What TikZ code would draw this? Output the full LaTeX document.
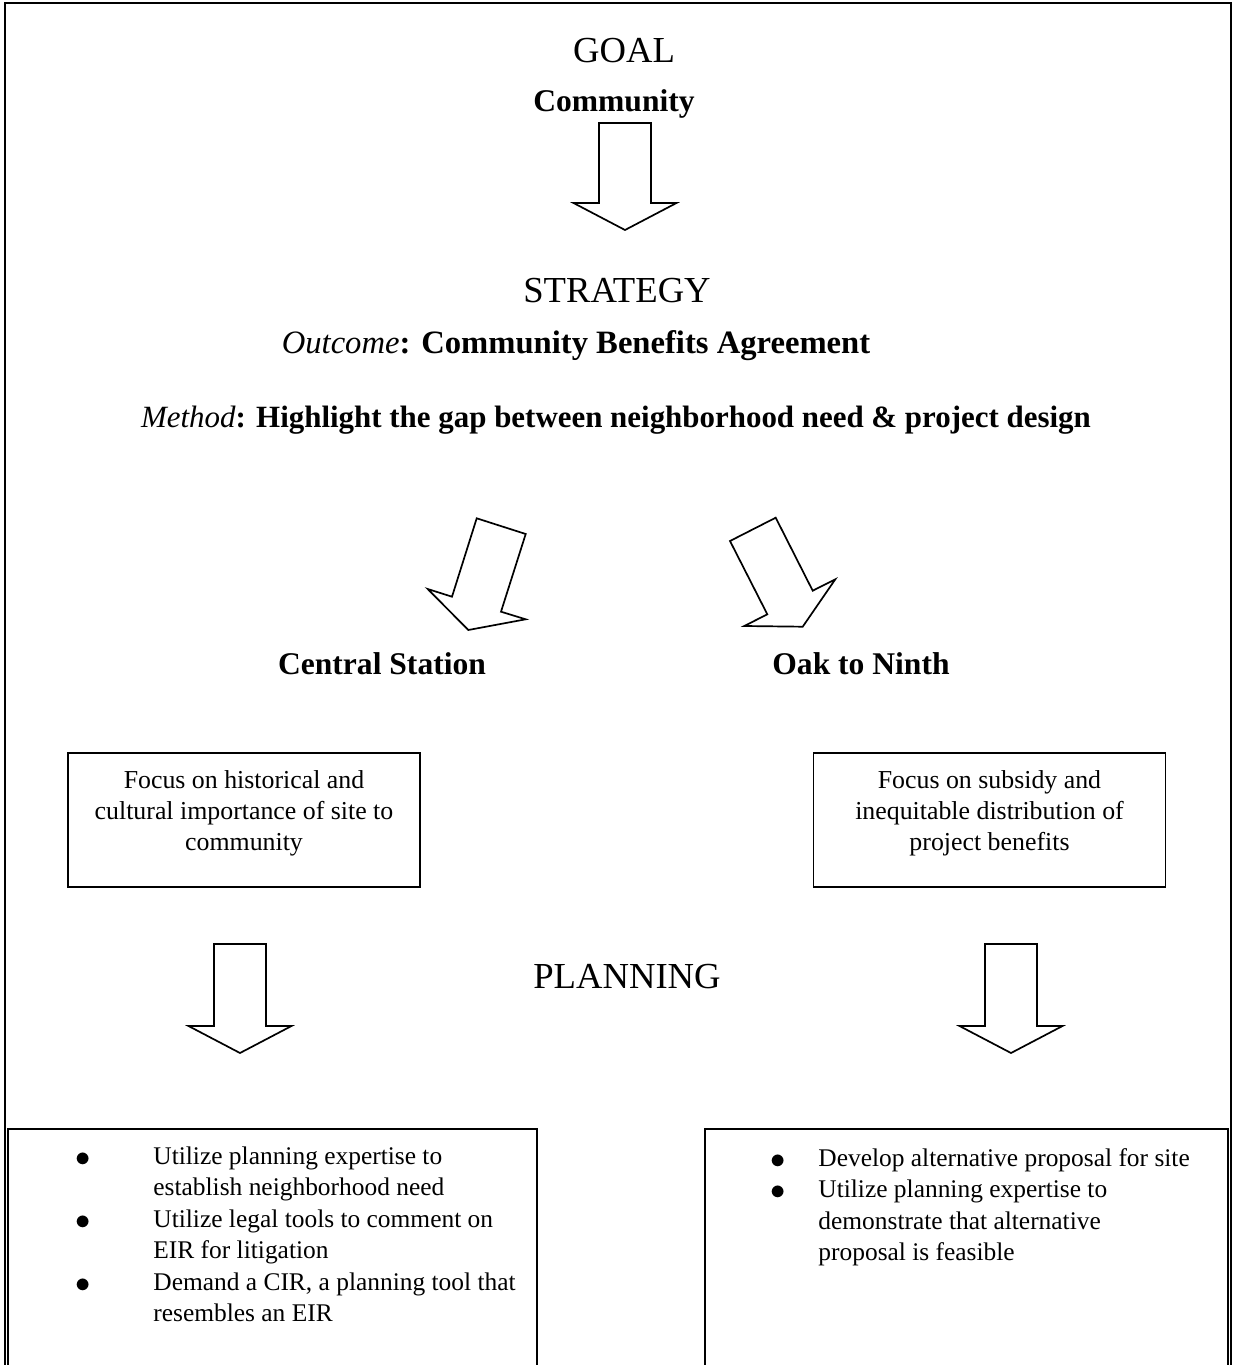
\documentclass[tikz,border=0pt]{standalone}
\usepackage{fontspec}
\setmainfont{Liberation Serif}
\newdimen\pxdim
\newdimen\marg
\newdimen\lsep
\pxdim=0.472pt
\newcommand\dotmark{\raisebox{-1pt}{\fontsize{15}{15}\selectfont$\bullet$}}
\newenvironment{steplist}[2]{%
  \marg=#1\pxdim \lsep=#2\pxdim
  \begin{list}{\dotmark}{%
    \setlength\leftmargin{\marg}%
    \setlength\labelsep{\lsep}%
    \setlength\labelwidth{\dimexpr\marg-\lsep\relax}%
    \setlength\topsep{0pt}\setlength\partopsep{0pt}%
    \setlength\itemsep{0pt}\setlength\parsep{0pt}}}%
  {\end{list}}
\newcommand\focustext[1]{%
  \begin{minipage}[c][134\pxdim][t]{352\pxdim}\centering
    \rule{0pt}{35\pxdim}#1\end{minipage}}
\newcommand\blockdown[3]{%
  \draw [blockarrow] (#1-26,#2) -- (#1+26,#2) -- (#1+26,#2+#3)
    -- (#1+51.5,#2+#3) -- (#1,#2+#3+27) -- (#1-51.5,#2+#3)
    -- (#1-26,#2+#3) -- cycle;}
\tikzstyle{heading}=[
  anchor=base,
  font={\fontsize{17.3}{20}\selectfont},
  inner sep=0pt,
]
\tikzstyle{site}=[
  anchor=base,
  font={\fontsize{14.9}{17}\selectfont\bfseries},
  inner sep=0pt,
]
\tikzstyle{focus}=[
  draw=black,
  line width=0.9pt,
  font={\fontsize{12.2}{14.7}\selectfont},
  inner sep=0pt,
]
\tikzstyle{steps}=[
  anchor=base west,
  font={\fontsize{12}{14.87}\selectfont},
  inner sep=0pt,
]
\tikzstyle{blockarrow}=[
  draw=black,
  line width=0.8pt,
  line join=miter,
]
\tikzstyle{frameline}=[
  draw=black,
  line width=1.1pt,
]
\tikzstyle{boxline}=[
  draw=black,
  line width=0.9pt,
]

\begin{document}
\begin{tikzpicture}[x=0.472pt,y=-0.472pt]
  \useasboundingbox (0,0) rectangle (1234,1365);
  \draw [frameline] (5,1365) -- (5,3) -- (1231,3) -- (1231,1365);

  \node (goal) [heading] at (624,63) {GOAL};
  \node (community) [site] at (614,112) {Community};
  \blockdown{625}{123}{80}

  \node (strategy) [heading] at (617,303) {STRATEGY};
  \node (outcome) [site, font={\fontsize{15.4}{17}\selectfont\bfseries}] at (576,353) {{\mdseries\itshape Outcome}: Community Benefits Agreement};
  \node (method) [site, font={\fontsize{14.6}{17}\selectfont\bfseries}] at (616,427) {{\mdseries\itshape Method}: Highlight the gap between neighborhood need \& project design};

  % slanted arrows to the two sites
  \draw [blockarrow] (476.7,518.3) -- (525.7,534) -- (501,611.7) -- (525.7,619.3)
    -- (468.3,630) -- (427.7,589) -- (452,596.7) -- cycle;
  \draw [blockarrow] (730,541) -- (775.7,517.7) -- (812.7,590.7) -- (835.3,579.3)
    -- (802.7,626.7) -- (744.3,626) -- (767.3,614.3) -- cycle;

  \node (central) [site] at (382,674) {Central Station};
  \node (oak) [site] at (861,674) {Oak to Ninth};

  \node (cfocus) [focus] at (244,820) {\focustext{Focus on historical and\\ cultural importance of site to\\ community}};
  \node (ofocus) [focus] at (989.5,820) {\focustext{Focus on subsidy and\\ inequitable distribution of\\ project benefits}};

  \node (planning) [heading] at (627,988) {PLANNING};
  \blockdown{240}{944}{82}
  \blockdown{1011}{944}{82}

  \draw [boxline] (8,1365) -- (8,1129) -- (537,1129) -- (537,1365);
  \draw [boxline] (705,1365) -- (705,1129) -- (1228,1129) -- (1228,1365);

  \node (csteps) [steps] at (60,1164) {\begin{minipage}[t]{470\pxdim}
    \begin{steplist}{93}{63}
      \item Utilize planning expertise to\\ establish neighborhood need
      \item Utilize legal tools to comment on\\ EIR for litigation
      \item Demand a CIR, a planning tool that\\ resembles an EIR
    \end{steplist}\end{minipage}};
  \node (osteps) [steps] at (740,1166) {\begin{minipage}[t]{480\pxdim}
    \begin{steplist}{78}{33}
      \item Develop alternative proposal for site
      \item Utilize planning expertise to\\ demonstrate that alternative\\ proposal is feasible
    \end{steplist}\end{minipage}};
\end{tikzpicture}
\end{document}
